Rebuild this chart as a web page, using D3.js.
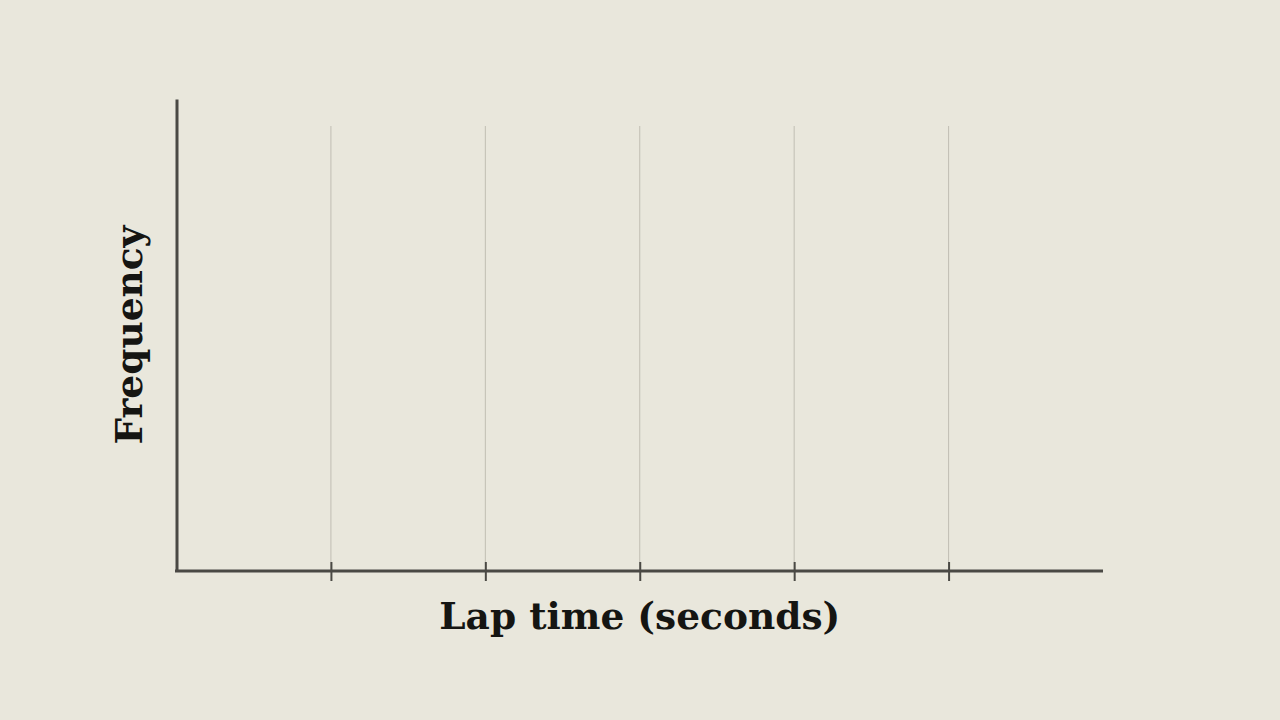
<!DOCTYPE html>
<html><head><meta charset="utf-8">
<script src="https://cdn.jsdelivr.net/npm/d3@7"></script>
<style>html,body{margin:0;padding:0;background:#e9e7dc;}svg{display:block;}</style>
</head><body>
<script>
// Data (histogram with no visible bins)
const lapTimes = [];
const xTickValues = [1, 2, 3, 4, 5];
const xTickLabels = ["", "", "", "", ""];
const xDomain = [0, 6];
const xLabel = "Lap time (seconds)";
const yLabel = "Frequency";

const W = 1280, H = 720;
const m = {left: 176.5, right: 177, top: 99, bottom: 149};
const svg = d3.select("body").append("svg").attr("width", W).attr("height", H);
svg.append("rect").attr("width", W).attr("height", H).attr("fill", "#e9e7dc");

const x = d3.scaleLinear().domain(xDomain).range([m.left, W - m.right]);
const y = d3.scaleLinear().domain([0, 1]).range([H - m.bottom, m.top]);

// grid
svg.append("g").selectAll("line").data(xTickValues).join("line")
  .attr("x1", d => x(d)).attr("x2", d => x(d))
  .attr("y1", 126).attr("y2", H - m.bottom)
  .attr("stroke", "#c0beb3").attr("stroke-width", 1);

// bars (none)
const bins = d3.bin().domain(xDomain).thresholds(6)(lapTimes);
svg.append("g").selectAll("rect").data(bins.filter(b => b.length)).join("rect")
  .attr("x", d => x(d.x0)).attr("width", d => x(d.x1) - x(d.x0))
  .attr("y", d => y(d.length)).attr("height", d => y(0) - y(d.length))
  .attr("fill", "#4a4944");

// x axis
const xAxis = d3.axisBottom(x).tickValues(xTickValues)
  .tickFormat((d, i) => xTickLabels[i]).tickSizeOuter(0).tickSize(10);
const gx = svg.append("g").attr("transform", `translate(0,${H - m.bottom})`).call(xAxis);
gx.select(".domain").attr("stroke", "#4a4944").attr("stroke-width", 3)
  .attr("d", `M${m.left - 1.5},0H${W - m.right}`);
gx.selectAll(".tick line").attr("stroke", "#4a4944").attr("stroke-width", 2)
  .attr("y1", -9).attr("y2", 10);

// y axis
const gy = svg.append("g").attr("transform", `translate(${m.left},0)`)
  .call(d3.axisLeft(y).tickValues([]).tickSizeOuter(0));
gy.select(".domain").attr("stroke", "#4a4944").attr("stroke-width", 3);

// labels
svg.append("text").attr("x", (m.left + W - m.right) / 2).attr("y", 629)
  .attr("text-anchor", "middle").attr("font-family", "DejaVu Serif")
  .attr("font-weight", "bold").attr("font-size", 37.5).attr("fill", "#151512")
  .text(xLabel);
svg.append("text").attr("transform", `translate(142,${(m.top + H - m.bottom) / 2}) rotate(-90)`)
  .attr("text-anchor", "middle").attr("font-family", "DejaVu Serif")
  .attr("font-weight", "bold").attr("font-size", 37.5).attr("fill", "#151512")
  .text(yLabel);
</script>
</body></html>
